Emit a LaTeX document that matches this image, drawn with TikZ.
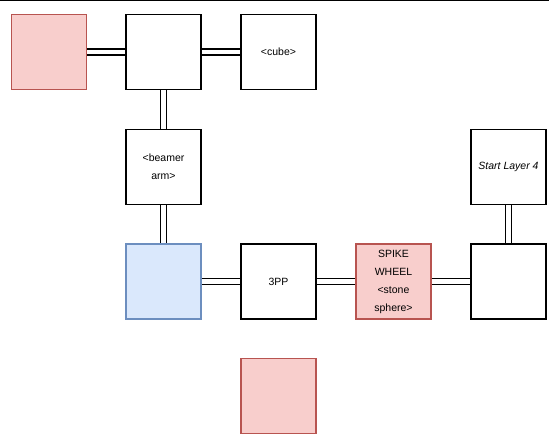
\documentclass[tikz,border=0pt]{standalone}
\usepackage{fontspec}
\setmainfont{Liberation Sans}
\definecolor{redfill}{HTML}{F8CECC}
\definecolor{redline}{HTML}{B85450}
\definecolor{bluefill}{HTML}{DAE8FC}
\definecolor{blueline}{HTML}{6C8EBF}
\tikzset{
  room/.style={draw,line width=1.6pt,minimum size=75pt,inner sep=0pt,
               align=center,font=\fontsize{10.5}{18}\selectfont},
  redroom/.style={room,draw=redline,fill=redfill},
  blueroom/.style={room,draw=blueline,fill=bluefill},
  link/.style={line width=1.6pt,double=white,double distance=4.5pt}
}
\begin{document}
\begin{tikzpicture}[x=1pt,y=-1pt]
  \useasboundingbox (0,0) rectangle (549,435);
  \draw[line width=2pt] (0,0) -- (549,0); % top edge

  % top row
  \node[redroom] (r0) at (49,52) {};
  \node[room]    (hub) at (163.5,52) {};
  \node[room]    (cube) at (278.5,52) {<cube>};

  % middle
  \node[room] (arm) at (163.5,167) {<beamer\\arm>};
  \node[room] (start) at (508.5,167) {\itshape Start Layer 4};

  % bottom row
  \node[blueroom] (b0) at (163.5,281.5) {};
  \node[room]     (pp) at (278.5,281.5) {3PP};
  \node[redroom]  (spike) at (393.5,281.5) {SPIKE\\WHEEL\\<stone\\sphere>};
  \node[room]     (b3) at (508.5,281.5) {};

  \node[redroom] (r1) at (278.5,396) {};

  \draw[link] (r0) -- (hub);
  \draw[link] (hub) -- (cube);
  \draw[link] (hub) -- (arm);
  \draw[link] (arm) -- (b0);
  \draw[link] (b0) -- (pp);
  \draw[link] (pp) -- (spike);
  \draw[link] (spike) -- (b3);
  \draw[link] (b3) -- (start);
\end{tikzpicture}
\end{document}
